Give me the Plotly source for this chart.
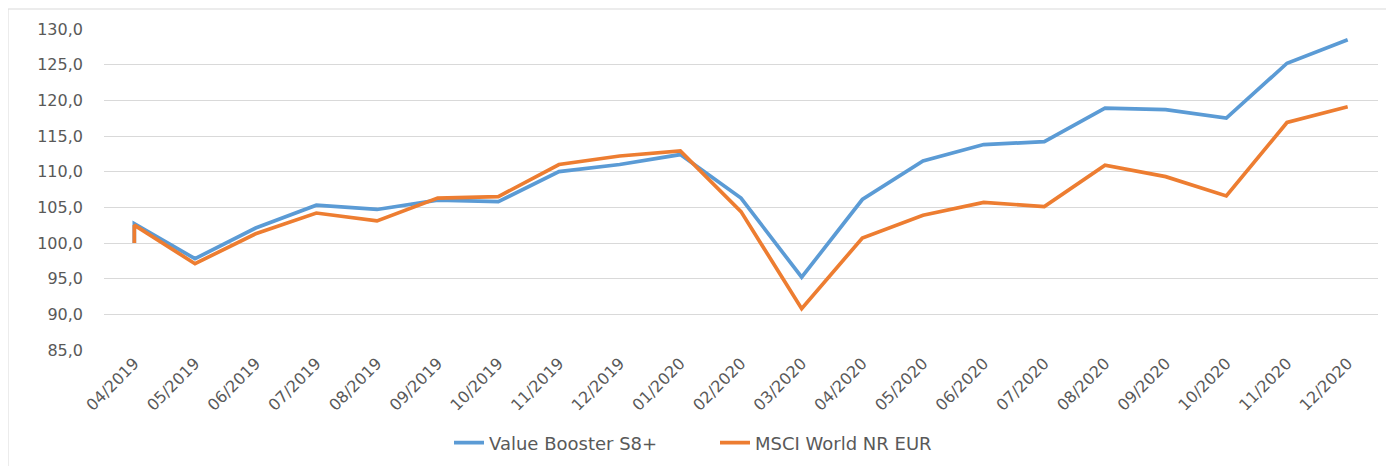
import plotly.graph_objects as go

months = ["04/2019", "04/2019", "05/2019", "06/2019", "07/2019", "08/2019", "09/2019",
          "10/2019", "11/2019", "12/2019", "01/2020", "02/2020", "03/2020",
          "04/2020", "05/2020", "06/2020", "07/2020", "08/2020", "09/2020",
          "10/2020", "11/2020", "12/2020"]

value_booster = [100.0, 102.7, 97.8, 102.1, 105.3, 104.7, 106.0, 105.8, 110.0, 111.0,
                 112.4, 106.3, 95.2, 106.1, 111.5, 113.8, 114.2, 118.9, 118.7,
                 117.5, 125.2, 128.5]

msci_world = [100.0, 102.5, 97.1, 101.3, 104.2, 103.1, 106.3, 106.5, 111.0, 112.2,
              112.9, 104.4, 90.8, 100.7, 103.9, 105.7, 105.1, 110.9, 109.3,
              106.6, 116.9, 119.1]

series_names = ["Value Booster S8+", "MSCI World NR EUR"]
colors = ["#5B9BD5", "#ED7D31"]

fig = go.Figure()
for name, vals, col in zip(series_names, [value_booster, msci_world], colors):
    fig.add_trace(go.Scatter(x=months, y=vals, mode="lines", name=name,
                             line=dict(color=col, width=3.7)))

# page has an 8px body margin; figure coordinates = page coordinates - 8
OFF = 8
W, H = 1394 - OFF, 466 - OFF
L, T = 104 - OFF, 29 - OFF
R = W - (1378 - OFF)
B = H - (350 - OFF)
pw = W - L - R
ph = H - T - B
n_cat = len(dict.fromkeys(months))

def px_x(page_x):
    return (page_x - OFF - L) / pw

def px_y(page_y):
    return (H - B - (page_y - OFF)) / ph

fig.update_layout(
    width=W, height=H,
    margin=dict(l=L, r=R, t=T, b=B, autoexpand=False),
    paper_bgcolor="white", plot_bgcolor="white",
    separators=",.",
    font=dict(family="DejaVu Sans, Liberation Sans, sans-serif", color="#595959", size=14),
    showlegend=True,
    legend=dict(orientation="h", x=px_x(715), xanchor="center",
                y=px_y(443), yanchor="middle",
                font=dict(size=18, color="#595959"),
                entrywidth=221, entrywidthmode="pixels",
                traceorder="normal"),
    xaxis=dict(type="category", range=[-0.5, n_cat - 0.5], automargin=False,
               showgrid=False, zeroline=False, showline=False,
               tickangle=-45, tickfont=dict(size=16, color="#595959"),
               ticks=""),
    yaxis=dict(range=[85, 130], dtick=5, tick0=85, tickformat=".1f", automargin=False,
               showgrid=True, gridcolor="#D9D9D9", gridwidth=1,
               zeroline=False, showline=False, ticks="",
               ticklabelstandoff=20, tickfont=dict(size=16, color="#595959")),
    shapes=[dict(type="rect", xref="paper", yref="paper",
                 x0=px_x(8), x1=px_x(1420),
                 y0=px_y(470), y1=px_y(9),
                 line=dict(color="#D9D9D9", width=1), layer="below")],
)

fig.write_html("out.html")
